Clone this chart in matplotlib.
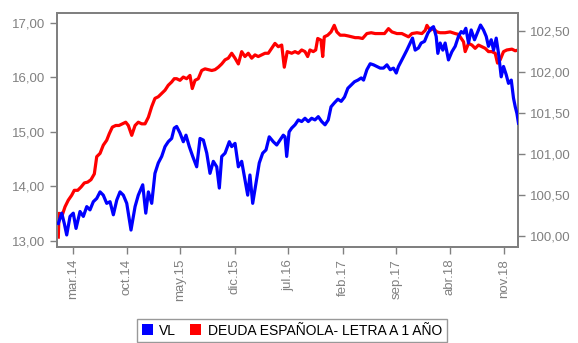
import matplotlib
matplotlib.use('Agg')
import matplotlib.pyplot as plt
from matplotlib.patches import Patch
import numpy as np
import pandas as pd

plt.rcParams['font.family'] = ['Liberation Sans', 'DejaVu Sans']

# fechas en año decimal, valor liquidativo (eje izq.) y letra a 1 año (eje dcho.)
vl_t = [2014.006, 2014.043, 2014.071, 2014.097, 2014.133, 2014.168, 2014.198, 2014.241,
        2014.277, 2014.314, 2014.349, 2014.385, 2014.422, 2014.458, 2014.493, 2014.530,
        2014.566, 2014.602, 2014.639, 2014.674, 2014.710, 2014.747, 2014.793, 2014.837,
        2014.872, 2014.920, 2014.953, 2014.981, 2015.018, 2015.053, 2015.089, 2015.126,
        2015.162, 2015.197, 2015.234, 2015.262, 2015.288, 2015.324, 2015.360, 2015.389,
        2015.425, 2015.462, 2015.505, 2015.541, 2015.577, 2015.614, 2015.649, 2015.685,
        2015.722, 2015.750, 2015.776, 2015.812, 2015.858, 2015.884, 2015.920, 2015.956,
        2015.992, 2016.028, 2016.058, 2016.082, 2016.112, 2016.147, 2016.183, 2016.220,
        2016.256, 2016.291, 2016.335, 2016.372, 2016.407, 2016.443, 2016.462, 2016.480,
        2016.506, 2016.534, 2016.570, 2016.606, 2016.642, 2016.678, 2016.714, 2016.750,
        2016.786, 2016.822, 2016.859, 2016.895, 2016.930, 2016.960, 2016.995, 2017.032,
        2017.068, 2017.104, 2017.140, 2017.176, 2017.212, 2017.249, 2017.285, 2017.310,
        2017.346, 2017.382, 2017.418, 2017.454, 2017.490, 2017.526, 2017.563, 2017.599,
        2017.634, 2017.664, 2017.688, 2017.725, 2017.743, 2017.779, 2017.815, 2017.840,
        2017.869, 2017.905, 2017.934, 2017.970, 2018.007, 2018.043, 2018.068, 2018.097,
        2018.115, 2018.140, 2018.169, 2018.194, 2018.230, 2018.267, 2018.303, 2018.338,
        2018.368, 2018.393, 2018.418, 2018.447, 2018.476, 2018.512, 2018.548, 2018.577,
        2018.609, 2018.639, 2018.663, 2018.693, 2018.718, 2018.747, 2018.772, 2018.801,
        2018.826, 2018.855, 2018.880, 2018.910, 2018.934, 2018.953, 2018.971, 2018.988]
vl = [13.32, 13.51, 13.32, 13.11, 13.45, 13.51, 13.23, 13.54,
      13.45, 13.63, 13.57, 13.72, 13.78, 13.90, 13.84, 13.69,
      13.72, 13.48, 13.75, 13.90, 13.84, 13.69, 13.20, 13.63,
      13.84, 14.03, 13.51, 13.90, 13.69, 14.24, 14.43, 14.55,
      14.73, 14.82, 14.88, 15.07, 15.10, 14.98, 14.82, 14.94,
      14.73, 14.55, 14.36, 14.88, 14.85, 14.61, 14.24, 14.46,
      14.36, 13.97, 14.55, 14.61, 14.82, 14.73, 14.79, 14.36,
      14.46, 14.12, 13.84, 14.21, 13.69, 14.06, 14.43, 14.61,
      14.67, 14.91, 14.82, 14.76, 14.85, 14.94, 14.91, 14.55,
      15.00, 15.07, 15.13, 15.22, 15.19, 15.25, 15.19, 15.25,
      15.22, 15.28, 15.19, 15.13, 15.22, 15.46, 15.53, 15.60,
      15.56, 15.64, 15.80, 15.86, 15.92, 15.95, 15.99, 15.95,
      16.14, 16.25, 16.23, 16.20, 16.17, 16.17, 16.23, 16.14,
      16.17, 16.08, 16.20, 16.32, 16.38, 16.50, 16.63, 16.72,
      16.50, 16.54, 16.63, 16.66, 16.81, 16.90, 16.93, 16.75,
      16.44, 16.63, 16.50, 16.63, 16.32, 16.47, 16.57, 16.75,
      16.84, 16.81, 16.90, 16.63, 16.87, 16.69, 16.84, 16.96,
      16.87, 16.75, 16.57, 16.69, 16.50, 16.72, 16.44, 16.01,
      16.20, 16.05, 15.89, 15.95, 15.62, 15.46, 15.34, 15.16]

letra_t = [2014.006, 2014.014, 2014.049, 2014.079, 2014.114, 2014.151, 2014.179, 2014.216,
           2014.252, 2014.288, 2014.324, 2014.360, 2014.396, 2014.422, 2014.458, 2014.493,
           2014.530, 2014.558, 2014.591, 2014.628, 2014.663, 2014.699, 2014.736, 2014.764,
           2014.801, 2014.837, 2014.872, 2014.909, 2014.945, 2014.981, 2015.018, 2015.053,
           2015.089, 2015.126, 2015.162, 2015.197, 2015.234, 2015.262, 2015.288, 2015.324,
           2015.360, 2015.396, 2015.432, 2015.457, 2015.487, 2015.522, 2015.559, 2015.595,
           2015.631, 2015.668, 2015.703, 2015.739, 2015.776, 2015.812, 2015.847, 2015.884,
           2015.920, 2015.956, 2015.992, 2016.028, 2016.064, 2016.101, 2016.137, 2016.172,
           2016.209, 2016.245, 2016.281, 2016.317, 2016.353, 2016.389, 2016.426, 2016.454,
           2016.486, 2016.534, 2016.570, 2016.606, 2016.642, 2016.678, 2016.707, 2016.732,
           2016.768, 2016.794, 2016.816, 2016.851, 2016.870, 2016.887, 2016.924, 2016.960,
           2016.995, 2017.021, 2017.057, 2017.104, 2017.147, 2017.184, 2017.220, 2017.255,
           2017.299, 2017.346, 2017.393, 2017.436, 2017.490, 2017.537, 2017.580, 2017.617,
           2017.671, 2017.725, 2017.761, 2017.797, 2017.834, 2017.888, 2017.942, 2017.978,
           2017.996, 2018.032, 2018.068, 2018.105, 2018.140, 2018.194, 2018.248, 2018.303,
           2018.338, 2018.368, 2018.393, 2018.411, 2018.447, 2018.484, 2018.519, 2018.555,
           2018.592, 2018.628, 2018.663, 2018.700, 2018.736, 2018.761, 2018.790, 2018.826,
           2018.862, 2018.917, 2018.953, 2018.988]
letra = [99.99, 100.28, 100.26, 100.36, 100.44, 100.50, 100.56, 100.56,
         100.60, 100.65, 100.66, 100.69, 100.76, 100.97, 101.01, 101.11,
         101.17, 101.25, 101.33, 101.35, 101.35, 101.37, 101.39, 101.35,
         101.23, 101.35, 101.39, 101.37, 101.37, 101.45, 101.58, 101.68,
         101.70, 101.74, 101.78, 101.84, 101.88, 101.92, 101.92, 101.90,
         101.94, 101.92, 101.96, 101.80, 101.90, 101.92, 102.02, 102.04,
         102.03, 102.02, 102.03, 102.06, 102.10, 102.15, 102.17, 102.23,
         102.17, 102.10, 102.25, 102.19, 102.23, 102.17, 102.21, 102.19,
         102.21, 102.23, 102.23, 102.29, 102.35, 102.31, 102.33, 102.06,
         102.25, 102.23, 102.25, 102.23, 102.27, 102.25, 102.19, 102.27,
         102.25, 102.27, 102.41, 102.39, 102.19, 102.43, 102.45, 102.49,
         102.57, 102.49, 102.45, 102.45, 102.44, 102.43, 102.42, 102.42,
         102.41, 102.47, 102.48, 102.47, 102.47, 102.47, 102.53, 102.49,
         102.47, 102.47, 102.45, 102.43, 102.47, 102.48, 102.47, 102.51,
         102.57, 102.51, 102.53, 102.49, 102.48, 102.48, 102.49, 102.47,
         102.46, 102.41, 102.37, 102.25, 102.35, 102.33, 102.29, 102.33,
         102.31, 102.29, 102.25, 102.25, 102.23, 102.11, 102.15, 102.25,
         102.27, 102.28, 102.26, 102.27]

tick_fechas = ['2014-03-01', '2014-10-01', '2015-05-01', '2015-12-01', '2016-07-01',
               '2017-02-01', '2017-09-01', '2018-04-01', '2018-11-01']
tick_txt = ['mar.14', 'oct.14', 'may.15', 'dic.15', 'jul.16',
            'feb.17', 'sep.17', 'abr.18', 'nov.18']
ticks_izq = [13, 14, 15, 16, 17]
ticks_dcha = [100.0, 100.5, 101.0, 101.5, 102.0, 102.5]


def a_fecha(t):
    """año decimal -> Timestamp"""
    out = []
    for v in t:
        y = int(v)
        out.append(pd.Timestamp(y, 1, 1) + pd.Timedelta(days=(v - y) * 365.25))
    return out


def coma(v):
    return ('%.2f' % v).replace('.', ',')


gris = '#808080'
fig = plt.figure(figsize=(5.78, 3.43), dpi=100)
ax = fig.add_axes([0.0986, 0.280, 0.7976, 0.682])
ax2 = ax.twinx()

ax.plot(a_fecha(vl_t), vl, color='#0000ff', lw=2.3, zorder=3)
ax2.plot(a_fecha(letra_t), letra, color='#ff0000', lw=2.3)
ax.set_zorder(ax2.get_zorder() + 1)
ax.patch.set_visible(False)

ax.set_xlim(pd.Timestamp('2013-12-29'), pd.Timestamp('2018-12-26'))
ax.set_ylim(12.89, 17.18)
ax2.set_ylim(99.87, 102.72)

ax.set_xticks(pd.to_datetime(tick_fechas))
ax.set_xticklabels(tick_txt, rotation=90)
ax.set_yticks(ticks_izq)
ax.set_yticklabels([coma(v) for v in ticks_izq])
ax2.set_yticks(ticks_dcha)
ax2.set_yticklabels([coma(v) for v in ticks_dcha])

for a in (ax, ax2):
    a.tick_params(colors=gris, labelcolor=gris, labelsize=9.5, length=5, width=1)
    for s in a.spines.values():
        s.set_color(gris)
        s.set_linewidth(1.4)

h = [Patch(facecolor='#0000ff', edgecolor='none', label='VL'),
     Patch(facecolor='#ff0000', edgecolor='none', label='DEUDA ESPAÑOLA- LETRA A 1 AÑO')]
leg = fig.legend(handles=h, loc='upper center', bbox_to_anchor=(0.505, 0.071), ncol=2,
                 frameon=True, fancybox=False, fontsize=10, handlelength=0.8,
                 handleheight=0.9, handletextpad=0.45, columnspacing=1.0,
                 borderpad=0.35, borderaxespad=0, edgecolor=gris)
leg.get_frame().set_linewidth(1.0)

fig.savefig('out.png', dpi=100)
